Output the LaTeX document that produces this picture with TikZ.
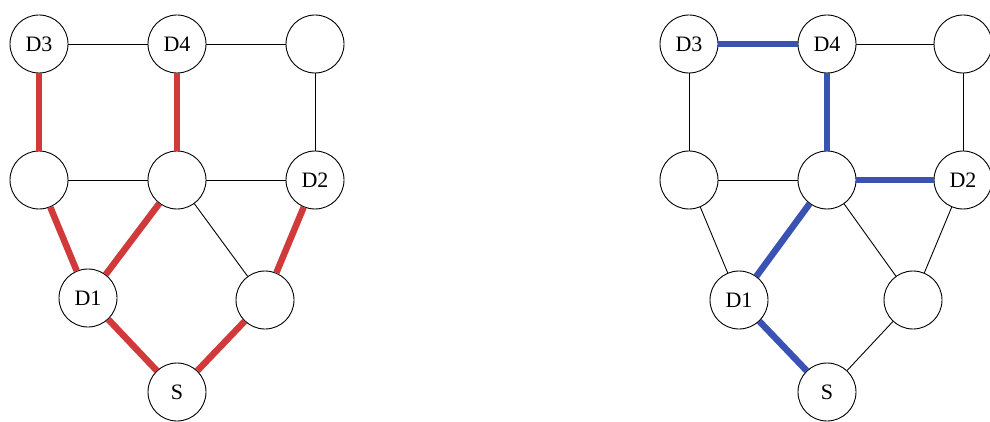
\documentclass[tikz,border=0pt]{standalone}
\usepackage{fontspec}
\setmainfont{Liberation Serif}
\usepackage{tikz}
\usetikzlibrary{positioning}
\usepackage{xcolor}
\definecolor{pathred}{RGB}{208,58,58}
\definecolor{pathblue}{RGB}{58,82,178}

\begin{document}
\begin{tikzpicture}[x=1pt, y=-1pt,
  vtx/.style={circle, draw, line width=0.9pt, fill=white, minimum size=58pt, inner sep=0pt, font=\fontsize{22}{26}\selectfont},
  link/.style={line width=0.9pt},
  redpath/.style={line width=6.5pt, pathred},
  bluepath/.style={line width=6.5pt, pathblue}]
\useasboundingbox (0,0) rectangle (990,422);
% left network, red tree
\begin{scope}[name prefix=l-]
\node[vtx] (d3) at (39,44) {D3};
\node[vtx] (d4) at (177,44) {D4};
\node[vtx] (tr) at (315,44) {};
\node[vtx] (ml) at (39,180) {};
\node[vtx] (mc) at (177,180) {};
\node[vtx] (d2) at (315,180) {D2};
\node[vtx] (d1) at (88,298) {D1};
\node[vtx] (br) at (265,300) {};
\node[vtx] (s) at (177,392) {S};
\draw[link] (d3) -- (d4);
\draw[link] (d4) -- (tr);
\draw[link] (tr) -- (d2);
\draw[link] (ml) -- (mc);
\draw[link] (mc) -- (d2);
\draw[link] (mc) -- (br);
\draw[redpath] (d3) -- (ml);
\draw[redpath] (d4) -- (mc);
\draw[redpath] (ml) -- (d1);
\draw[redpath] (mc) -- (d1);
\draw[redpath] (d2) -- (br);
\draw[redpath] (d1) -- (s);
\draw[redpath] (br) -- (s);
\end{scope}
% right network, blue tree
\begin{scope}[xshift=650, name prefix=r-]
\node[vtx] (d3) at (39,44) {D3};
\node[vtx] (d4) at (177,44) {D4};
\node[vtx] (tr) at (313,44) {};
\node[vtx] (ml) at (39,180) {};
\node[vtx] (mc) at (177,180) {};
\node[vtx] (d2) at (313,180) {D2};
\node[vtx] (d1) at (89,300) {D1};
\node[vtx] (br) at (263,300) {};
\node[vtx] (s) at (177,392) {S};
\draw[link] (d4) -- (tr);
\draw[link] (d3) -- (ml);
\draw[link] (tr) -- (d2);
\draw[link] (ml) -- (mc);
\draw[link] (ml) -- (d1);
\draw[link] (mc) -- (br);
\draw[link] (d2) -- (br);
\draw[link] (br) -- (s);
\draw[bluepath] (d3) -- (d4);
\draw[bluepath] (d4) -- (mc);
\draw[bluepath] (mc) -- (d2);
\draw[bluepath] (mc) -- (d1);
\draw[bluepath] (d1) -- (s);
\end{scope}
\end{tikzpicture}
\end{document}
